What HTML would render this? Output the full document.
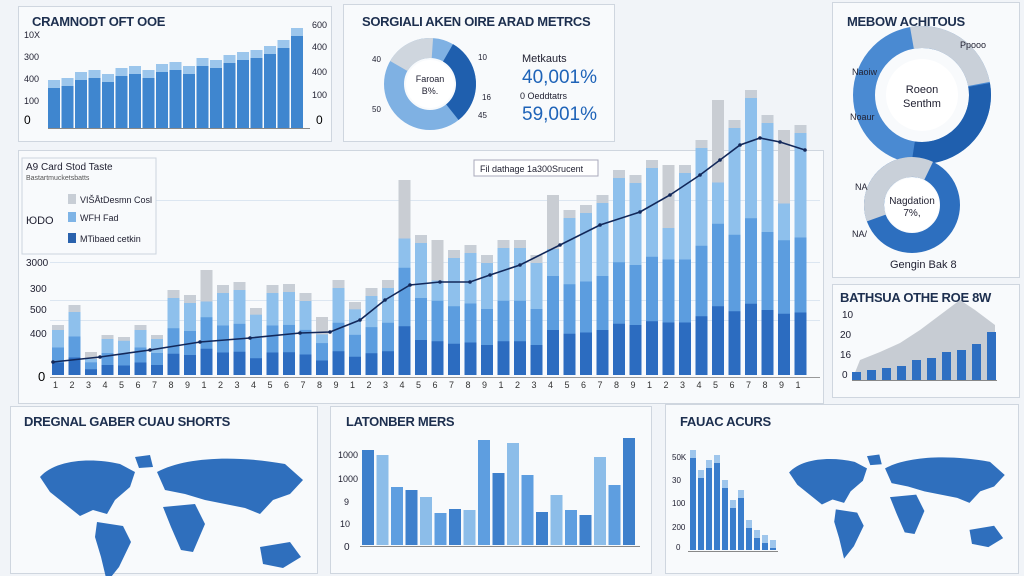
<!DOCTYPE html><html><head><meta charset="utf-8"><style>
body{margin:0;width:1024px;height:576px;background:#f1f4f8;font-family:"Liberation Sans",sans-serif;overflow:hidden;position:relative}
.p{position:absolute;background:#f8fafc;border:1px solid #cfd6df}
.t{position:absolute;font-weight:bold;color:#1d2f4f;font-size:13px;letter-spacing:-0.3px}
svg{position:absolute;left:0;top:0}
</style></head><body>
<div class="p" style="left:18px;top:6px;width:312px;height:134px"></div>
<div class="p" style="left:343px;top:4px;width:270px;height:136px"></div>
<div class="p" style="left:832px;top:2px;width:186px;height:274px"></div>
<div class="p" style="left:18px;top:150px;width:804px;height:252px"></div>
<div class="p" style="left:832px;top:284px;width:186px;height:112px"></div>
<div class="p" style="left:10px;top:406px;width:306px;height:166px"></div>
<div class="p" style="left:330px;top:406px;width:320px;height:166px"></div>
<div class="p" style="left:665px;top:404px;width:352px;height:168px"></div>
<div class="t" style="left:32px;top:14px">CRAMNODT OFT OOE</div>
<div class="t" style="left:362px;top:14px">SORGIALI AKEN OIRE ARAD METRCS</div>
<div class="t" style="left:847px;top:14px">MEBOW ACHITOUS</div>
<div class="t" style="left:840px;top:290px">BATHSUA OTHE ROE 8W</div>
<div class="t" style="left:24px;top:414px">DREGNAL GABER CUAU SHORTS</div>
<div class="t" style="left:346px;top:414px">LATONBER MERS</div>
<div class="t" style="left:680px;top:414px">FAUAC ACURS</div>
<svg id="s" width="1024" height="576" font-family="Liberation Sans" font-size="10" fill="#223"></svg>
<script>
var s=document.getElementById('s'),h='';
function R(x,y,w,hh,c){h+='<rect x="'+x+'" y="'+y+'" width="'+w+'" height="'+hh+'" fill="'+c+'"/>';}
function T(x,y,t,sz,c,a){h+='<text x="'+x+'" y="'+y+'" font-size="'+(sz||10)+'" fill="'+(c||'#223')+'"'+(a?' text-anchor="'+a+'"':'')+'>'+t+'</text>';}
// panel1 bars increasing
var p1=[80,78,72,70,74,68,66,70,64,62,66,58,60,55,52,50,46,40,28];
for(var i=0;i<p1.length;i++){var x=48+i*13.5;R(x,p1[i],12,128-p1[i],'#3f86cf');R(x,p1[i],12,8,'#9cc6ec');}
T(24,38,'10X',9);T(24,60,'300',9);T(24,82,'400',9);T(24,104,'100',9);T(24,124,'0',12,'#000');
T(312,28,'600',9);T(312,50,'400',9);T(312,75,'400',9);T(312,98,'100',9);T(316,124,'0',12,'#000');
R(48,128,262,1,'#888');
// donut 2
var cx=430,cy=84;
h+='<circle cx="'+cx+'" cy="'+cy+'" r="36" fill="none" stroke="#7fb1e3" stroke-width="20"/><circle cx="'+cx+'" cy="'+cy+'" r="36" fill="none" stroke="#1f5fae" stroke-width="20" stroke-dasharray="70 300" transform="rotate(-60 '+cx+' '+cy+')"/><circle cx="'+cx+'" cy="'+cy+'" r="36" fill="none" stroke="#cfd6de" stroke-width="20" stroke-dasharray="40 300" transform="rotate(-150 '+cx+' '+cy+')"/><circle cx="'+cx+'" cy="'+cy+'" r="24" fill="#fff"/>';
T(cx,82,'Faroan',9,'#223','middle');T(cx,94,'B%.',9,'#223','middle');
T(372,62,'40',8);T(372,112,'50',8);T(478,60,'10',8);T(482,100,'16',8);T(478,118,'45',8);
T(522,62,'Metkauts',11);T(522,83,'40,001%',19,'#1e63b8');T(520,99,'0 Oeddtatrs',9);T(522,120,'59,001%',19,'#1e63b8');
// donuts panel3
h+='<circle cx="922" cy="95" r="58" fill="none" stroke="#4a8ad2" stroke-width="22"/><circle cx="922" cy="95" r="58" fill="none" stroke="#c9d0d9" stroke-width="22" stroke-dasharray="90 400" transform="rotate(-100 922 95)"/><circle cx="922" cy="95" r="58" fill="none" stroke="#1f5fae" stroke-width="22" stroke-dasharray="110 400" transform="rotate(-10 922 95)"/><circle cx="922" cy="95" r="36" fill="#fff"/>';
T(922,93,'Roeon',11,'#223','middle');T(922,107,'Senthm',11,'#223','middle');
h+='<circle cx="912" cy="205" r="38" fill="none" stroke="#2d6fbf" stroke-width="20"/><circle cx="912" cy="205" r="38" fill="none" stroke="#c9d0d9" stroke-width="20" stroke-dasharray="90 300" transform="rotate(-200 912 205)"/><circle cx="912" cy="205" r="27" fill="#fff"/>';
T(912,204,'Nagdation',10,'#223','middle');T(912,216,'7%,',10,'#223','middle');
T(890,268,'Gengin Bak 8',11);T(852,75,'Naoiw',9);T(850,120,'Noaur',9);T(855,190,'NA',9);T(852,237,'NA/',9);T(960,48,'Ppooo',9);
// main chart
var tops=[325,305,352,335,337,325,335,290,295,270,285,282,308,285,284,293,317,280,302,288,280,180,235,240,250,245,255,240,240,255,195,210,205,195,170,175,160,165,165,140,100,120,90,115,130,125];
[262,320,200,300].forEach(function(y){R(50,y,770,1,'#dce6f1');});
for(var i=0;i<tops.length;i++){var x=52+i*16.5,t=tops[i],H=375-t;
 R(x,t,12,H,'#8ec0ec');R(x,t+H*0.45,12,H*0.55,'#5c9ddf');R(x,375-H*0.25,12,H*0.25,'#2c6cc0');R(x,t,12,Math.min(8,H*.1),'#c8ced6');
 if(i%7==2||i==21||i==40)R(x,t,12,H*0.3,'#c9cdd3');
 T(x+1,388,(i%9)+1,9,'#333');}
R(50,377,770,1,'#999');
var L=[[53,362],[100,357],[150,350],[200,342],[250,338],[300,333],[330,332],[360,320],[385,300],[410,285],[440,282],[470,282],[490,275],[520,265],[560,245],[600,225],[640,212],[670,195],[700,175],[720,160],[740,145],[760,138],[780,142],[805,150]];
h+='<polyline fill="none" stroke="#12285a" stroke-width="1.6" points="'+L.map(function(p){return p.join(',')}).join(' ')+'"/>';
L.forEach(function(p){h+='<circle cx="'+p[0]+'" cy="'+p[1]+'" r="1.8" fill="#12285a"/>';});
h+='<rect x="22" y="158" width="134" height="96" fill="#f8fafc" stroke="#ccd4de"/>';
T(26,170,'A9 Card Stod Taste',10);T(26,180,'Bastartmucketsbatts',7,'#555');
R(68,194,8,10,'#c8ced6');T(80,203,'VIŠÅtDesmn Cosl',9);R(68,212,8,10,'#7fb4e6');T(80,221,'WFH Fad',9);R(68,233,8,10,'#2a62ad');T(80,242,'MTibaed cetkin',9);
T(26,224,'ЮDO',11);T(26,266,'3000',10);T(30,292,'300',10);T(30,313,'500',10);T(30,337,'400',10);T(38,381,'0',13,'#000');
h+='<rect x="474" y="160" width="124" height="16" fill="#fff" stroke="#aab"/>';T(480,172,'Fil dathage 1a300Srucent',9);
// right mid area
h+='<polygon fill="#c7ccd3" points="852,380 860,360 880,352 900,343 920,330 940,315 960,300 975,310 995,325 995,380"/>';
for(var i=0;i<10;i++){var hh=[8,10,12,14,20,22,28,30,36,48][i];R(852+i*15,380-hh,9,hh,'#2e6fc2');}
R(852,380,145,1,'#888');T(842,318,'10',10);T(840,338,'20',10);T(840,358,'16',10);T(842,378,'0',10);
// bottom middle bars
var b=[450,455,487,490,497,513,509,510,440,473,443,475,512,495,510,515,457,485,438];
for(var i=0;i<b.length;i++){R(362+i*14.5,b[i],12,545-b[i],i%3==1?'#8cbde9':(i%3==0?'#3e80cc':'#5e9ee0'));}
R(360,546,280,1,'#888');T(338,458,'1000',9);T(338,482,'1000',9);T(344,505,'9',9);T(340,527,'10',9);T(344,550,'0',10);
// bottom right bars
var c=[450,470,460,455,480,500,490,520,530,535,540];
for(var i=0;i<c.length;i++){var x=690+i*8;R(x,c[i],6,550-c[i],'#3a7dcc');R(x,c[i],6,8,'#9fc6ec');}
R(688,551,90,1,'#888');T(672,460,'50K',8);T(672,483,'30',8);T(672,506,'100',8);T(672,530,'200',8);T(676,550,'0',8);
// maps
function map(ox,oy,sc){h+='<g transform="translate('+ox+','+oy+') scale('+sc+')" fill="#2f6fbd">'+
'<path d="M5,25 C20,8 55,5 85,12 L100,20 95,35 80,48 72,62 58,58 45,64 30,52 15,40Z"/>'+
'<path d="M62,70 L88,74 96,90 84,115 72,130 66,105 60,85Z"/>'+
'<path d="M122,20 C150,5 200,3 250,12 L268,28 255,42 238,48 225,62 210,56 190,52 170,48 150,42 130,38Z"/>'+
'<path d="M128,55 L160,52 170,72 158,100 146,98 136,75Z"/>'+
'<path d="M225,95 L255,90 266,105 248,116 228,112Z"/><path d="M100,5 L115,3 118,15 104,16Z"/></g>';}
map(35,452,1.0);map(785,452,0.82);
s.innerHTML=h;
</script>
</body></html>
